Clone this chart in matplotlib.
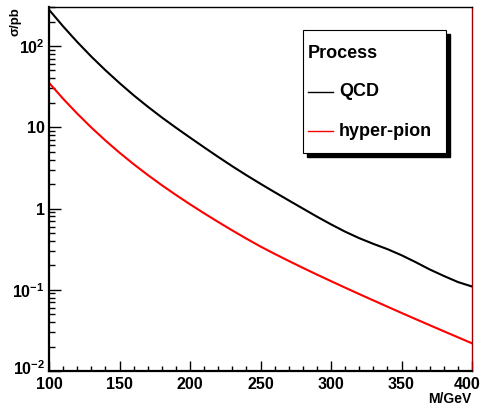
import matplotlib
matplotlib.use('Agg')
import matplotlib.pyplot as plt
import matplotlib.transforms as mtrans
import numpy as np
from matplotlib.patches import Rectangle
from matplotlib.lines import Line2D
from matplotlib.ticker import FixedLocator, FixedFormatter, LogLocator, NullFormatter, MultipleLocator

plt.rcParams['font.family'] = ['Liberation Sans', 'DejaVu Sans']
plt.rcParams['font.weight'] = 'bold'
plt.rcParams['mathtext.fontset'] = 'custom'
plt.rcParams['mathtext.rm'] = 'Liberation Sans:bold'
plt.rcParams['mathtext.bf'] = 'Liberation Sans:bold'

# invariant mass (GeV)
mass = [100, 110, 120, 130, 140, 150, 160, 170, 180, 190, 200,
        210, 220, 230, 240, 250, 260, 270, 280, 290, 300,
        310, 320, 330, 340, 350, 360, 370, 380, 390, 400]
# log10 of cross section in pb
qcd_log = [2.447, 2.242, 2.050, 1.870, 1.702, 1.544, 1.394, 1.254, 1.121, 0.995, 0.873,
           0.753, 0.635, 0.520, 0.410, 0.304, 0.201, 0.100, 0.000, -0.100, -0.195,
           -0.285, -0.365, -0.435, -0.500, -0.575, -0.660, -0.750, -0.830, -0.905, -0.960]
pion_log = [1.547, 1.351, 1.168, 0.997, 0.837, 0.687, 0.546, 0.413, 0.287, 0.167, 0.052,
            -0.059, -0.166, -0.270, -0.371, -0.468, -0.558, -0.645, -0.730, -0.813, -0.894,
            -0.974, -1.053, -1.131, -1.208, -1.285, -1.361, -1.436, -1.511, -1.585, -1.659]
x_ticks = [100, 150, 200, 250, 300, 350, 400]

qcd = 10 ** np.array(qcd_log)
pion = 10 ** np.array(pion_log)

W, H = 481, 407
fig = plt.figure(figsize=(W / 100, H / 100), dpi=100)
ax = fig.add_axes([49 / W, 36 / H, 423 / W, 364 / H])

ax.plot(mass, qcd, color='black', lw=1.5)
ax.plot(mass, pion, color='#ff0000', lw=1.5)

ax.set_yscale('log')
ax.set_xlim(100, 400)
ax.set_ylim(0.01, 10 ** 2.48)

ax.xaxis.set_major_locator(FixedLocator(x_ticks))
ax.xaxis.set_minor_locator(MultipleLocator(10))
ax.yaxis.set_major_locator(FixedLocator([0.01, 0.1, 1, 10, 100]))
ax.yaxis.set_major_formatter(FixedFormatter([r'$\mathbf{10^{-2}}$', r'$\mathbf{10^{-1}}$',
                                              '1', '10', r'$\mathbf{10^{2}}$']))
ax.yaxis.set_minor_locator(LogLocator(base=10, subs=np.arange(2, 10), numticks=20))
ax.yaxis.set_minor_formatter(NullFormatter())

ax.tick_params(axis='both', which='both', direction='in', top=False, right=False,
               width=1, labelsize=11.5)
ax.tick_params(axis='x', which='major', length=7.5, pad=4)
ax.tick_params(axis='x', which='minor', length=3.8)
ax.tick_params(axis='y', which='major', length=8.6, pad=3)
ax.tick_params(axis='y', which='minor', length=4.3)
for lab in ax.get_xticklabels() + ax.get_yticklabels():
    lab.set_fontweight('bold')

# nudge the two corner labels so they do not collide / clip
fig.canvas.draw()
ylab = ax.yaxis.get_majorticklabels()[0]
ylab.set_transform(ylab.get_transform() + mtrans.ScaledTranslation(0, 4 / 100, fig.dpi_scale_trans))
xlab = ax.xaxis.get_majorticklabels()[len(x_ticks) - 1]
xlab.set_transform(xlab.get_transform() + mtrans.ScaledTranslation(-5 / 100, 0, fig.dpi_scale_trans))

ax.spines['left'].set_linewidth(1.6)
ax.spines['bottom'].set_linewidth(1.6)
ax.spines['top'].set_linewidth(1.0)
ax.spines['right'].set_linewidth(1.0)
ax.spines['right'].set_color('#a00000')

fig.text(9 / W, 1 - 7 / H, 'σ/pb', rotation=90, ha='left', va='top',
         fontsize=9.5, fontweight='bold')
fig.text(471 / W, 1 - 403 / H, 'M/GeV', ha='right', va='baseline',
         fontsize=10, fontweight='bold')

# legend box with shadow
lx0, ly0, lx1, ly1 = 303, 30, 446, 153
fig.patches.append(Rectangle(((lx0 + 4) / W, 1 - (ly1 + 4) / H), (lx1 - lx0) / W,
                             (ly1 - ly0) / H, transform=fig.transFigure,
                             facecolor='black', edgecolor='black', zorder=5))
fig.patches.append(Rectangle((lx0 / W, 1 - ly1 / H), (lx1 - lx0) / W,
                             (ly1 - ly0) / H, transform=fig.transFigure,
                             facecolor='white', edgecolor='black', lw=0.8, zorder=6))
fig.text(308 / W, 1 - 53 / H, 'Process', ha='left', va='center',
         fontsize=13, fontweight='bold', zorder=7)
fig.lines.append(Line2D([308 / W, 333 / W], [1 - 92 / H, 1 - 92 / H],
                        transform=fig.transFigure, color='black', lw=1.0, zorder=7))
fig.text(339 / W, 1 - 92 / H, 'QCD', ha='left', va='center',
         fontsize=13, fontweight='bold', zorder=7)
fig.lines.append(Line2D([308 / W, 333 / W], [1 - 131 / H, 1 - 131 / H],
                        transform=fig.transFigure, color='#ff0000', lw=1.0, zorder=7))
fig.text(339 / W, 1 - 131 / H, 'hyper-pion', ha='left', va='center',
         fontsize=13, fontweight='bold', zorder=7)

fig.savefig('out.png', dpi=100)
